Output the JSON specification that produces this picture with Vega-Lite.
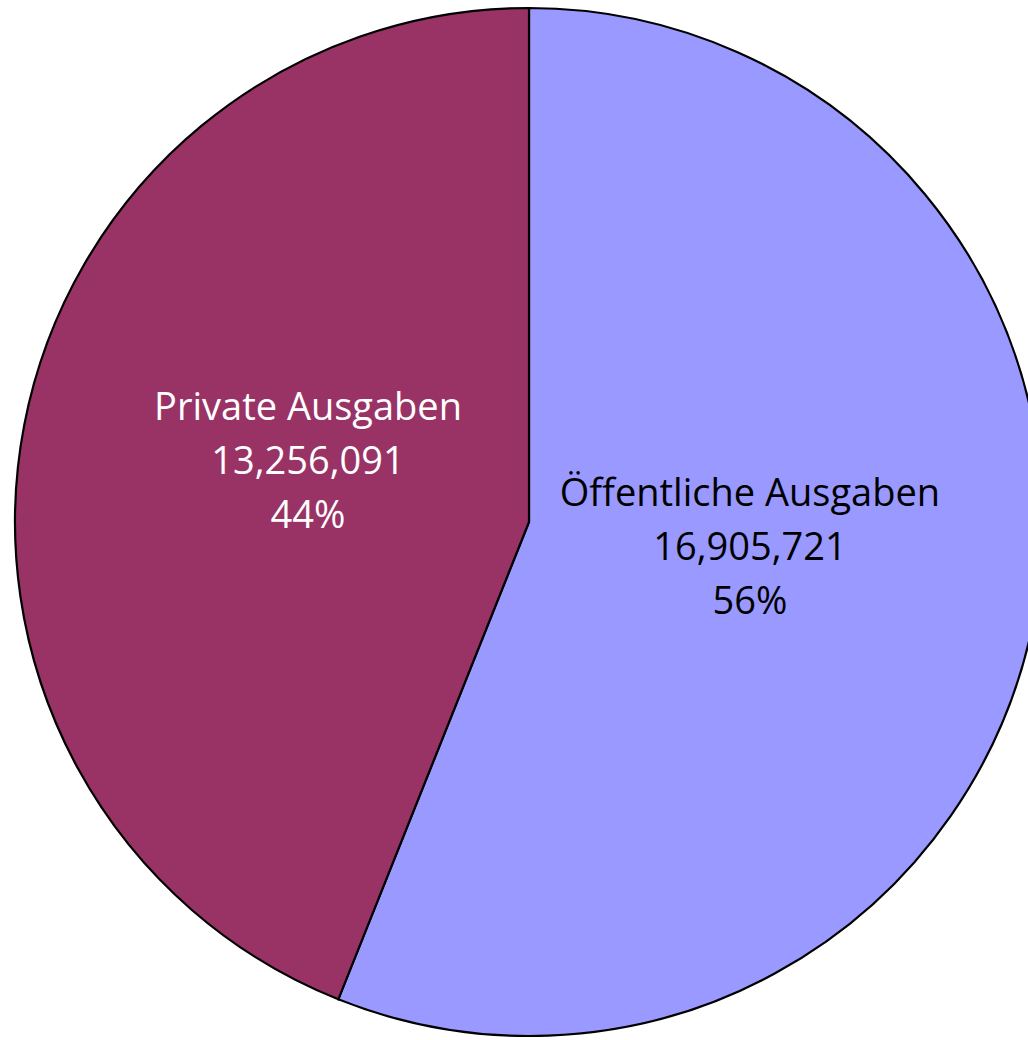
{
  "$schema": "https://vega.github.io/schema/vega-lite/v6.json",
  "width": 1028,
  "height": 1040,
  "padding": 0,
  "autosize": {"type": "none"},
  "background": "white",
  "config": {"view": {"stroke": null}},
  "data": {
    "values": [
      {"category": "Öffentliche Ausgaben", "value": 16905721, "label": "Öffentliche Ausgaben\n16,905,721\n56%", "ord": 1},
      {"category": "Private Ausgaben", "value": 13256091, "label": "Private Ausgaben\n13,256,091\n44%", "ord": 2}
    ]
  },
  "encoding": {
    "theta": {"field": "value", "type": "quantitative", "stack": true},
    "order": {"field": "ord", "type": "quantitative"}
  },
  "layer": [
    {
      "mark": {"type": "arc", "outerRadius": 514, "x": 529, "y": 522, "stroke": "black", "strokeWidth": 2.2},
      "encoding": {
        "color": {
          "field": "category", "type": "nominal",
          "scale": {"domain": ["Öffentliche Ausgaben", "Private Ausgaben"], "range": ["#9999FF", "#993366"]},
          "legend": null
        }
      }
    },
    {
      "mark": {"type": "text", "radius": 225, "x": 529, "y": 522, "dy": -70, "font": "Open Sans", "fontSize": 38, "lineBreak": "\n", "lineHeight": 54, "align": "center", "baseline": "middle"},
      "encoding": {
        "text": {"field": "label", "type": "nominal"},
        "color": {"condition": {"test": "datum.ord == 2", "value": "white"}, "value": "black"}
      }
    }
  ]
}
